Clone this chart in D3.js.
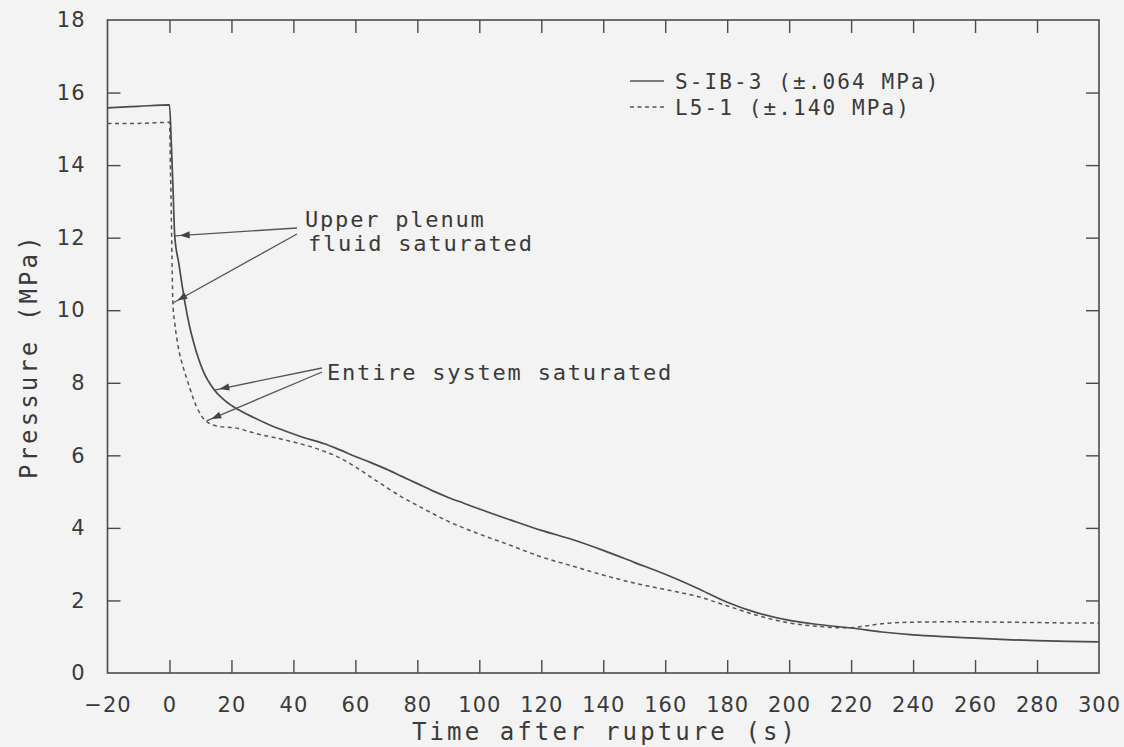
<!DOCTYPE html>
<html>
<head>
<meta charset="utf-8">
<script src="https://cdn.jsdelivr.net/npm/d3@7"></script>
<style>
  html, body { margin: 0; padding: 0; background: #f3f3f3; }
  svg { display: block; }
  text { font-family: "DejaVu Sans Mono", monospace; fill: #3a3a3a; }
</style>
</head>
<body>
<svg id="chart" width="1124" height="747"></svg>
<script>
// S-IB-3 (semiscale) pressure history
const sibTime = [-20, -10, 0, 0.6, 1.2, 1.7, 3, 5, 6.5, 8, 11, 14.5, 18, 22, 27, 32, 38, 43, 50, 55, 60, 65, 70, 75, 80, 85, 90, 95, 100, 110, 120, 130, 140, 150, 160, 170, 180, 190, 200, 210, 220, 230, 240, 250, 260, 270, 280, 290, 300];
const sibPressure = [15.58, 15.62, 15.66, 14.6, 13.2, 12.05, 11.3, 10.2, 9.55, 9.05, 8.3, 7.8, 7.5, 7.27, 7.05, 6.85, 6.65, 6.5, 6.32, 6.15, 5.97, 5.8, 5.62, 5.42, 5.22, 5.02, 4.84, 4.68, 4.52, 4.22, 3.93, 3.68, 3.38, 3.05, 2.72, 2.35, 1.95, 1.65, 1.45, 1.33, 1.24, 1.13, 1.05, 1.0, 0.96, 0.92, 0.89, 0.87, 0.86];

// L5-1 (LOFT) pressure history
const l51Time = [-20, -10, 0, 0.3, 0.6, 0.9, 1.1, 1.7, 2.8, 4.4, 6, 8.7, 11.4, 15.7, 21, 28, 37, 48, 55, 60, 65, 70, 75, 80, 90, 100, 110, 120, 130, 140, 150, 160, 170, 180, 190, 200, 210, 215, 220, 225, 230, 240, 250, 260, 270, 280, 290, 300];
const l51Pressure = [15.15, 15.15, 15.18, 14.0, 12.6, 11.0, 10.2, 9.65, 9.0, 8.44, 8.0, 7.35, 6.97, 6.8, 6.76, 6.6, 6.43, 6.17, 5.93, 5.68, 5.4, 5.12, 4.85, 4.62, 4.18, 3.83, 3.52, 3.2, 2.95, 2.7, 2.48, 2.3, 2.12, 1.85, 1.58, 1.38, 1.28, 1.25, 1.25, 1.3, 1.36, 1.4, 1.41, 1.41, 1.4, 1.39, 1.38, 1.38];

const seriesNames = ["S-IB-3 (\u00b1.064 MPa)", "L5-1 (\u00b1.140 MPa)"];
const xTickValues = [-20, 0, 20, 40, 60, 80, 100, 120, 140, 160, 180, 200, 220, 240, 260, 280, 300];
const yTickValues = [0, 2, 4, 6, 8, 10, 12, 14, 16, 18];
const xTitle = "Time after rupture (s)";
const yTitle = "Pressure (MPa)";

// annotation text lines and the curve points their arrows point at
const upperPlenumLines = ["Upper plenum", "fluid saturated"];
const upperPlenumTargets = [{ t: 1.7, p: 12.05 }, { t: 1.1, p: 10.2 }];
const entireSystemLines = ["Entire system saturated"];
const entireSystemTargets = [{ t: 14.5, p: 7.8 }, { t: 12, p: 6.95 }];

const svg = d3.select("#chart");
const plotLeft = 107.5, plotRight = 1099, plotTop = 20, plotBottom = 673;

const x = d3.scaleLinear().domain([-20, 300]).range([plotLeft, plotRight]);
const y = d3.scaleLinear().domain([0, 18]).range([plotBottom, plotTop]);

const ink = "#4a4a4a";
const tickLen = 13;

// bottom axis with inward ticks and labels
const gx = svg.append("g").attr("transform", `translate(0,${plotBottom})`)
  .call(d3.axisBottom(x).tickValues(xTickValues).tickSize(-tickLen).tickPadding(24)
    .tickFormat(d3.format("d")));
// top axis, ticks only
const gxt = svg.append("g").attr("transform", `translate(0,${plotTop})`)
  .call(d3.axisTop(x).tickValues(xTickValues.slice(1, -1)).tickSize(-tickLen).tickFormat(""));
// left axis with labels
const gy = svg.append("g").attr("transform", `translate(${plotLeft},0)`)
  .call(d3.axisLeft(y).tickValues(yTickValues).tickSize(-tickLen).tickPadding(22)
    .tickFormat(d3.format("d")));
// right axis, ticks only
const gyr = svg.append("g").attr("transform", `translate(${plotRight},0)`)
  .call(d3.axisRight(y).tickValues(yTickValues.slice(1, -1)).tickSize(-tickLen).tickFormat(""));

[gx, gxt, gy, gyr].forEach(g => {
  g.select(".domain").remove();
  g.selectAll(".tick line").attr("stroke", ink).attr("stroke-width", 1.4);
  g.selectAll(".tick text")
    .attr("fill", "#3a3a3a")
    .style("font-size", "21px")
    .style("letter-spacing", "1px")
    .style("font-family", "'DejaVu Sans', sans-serif");
});
// end ticks that sit on the frame corners are not drawn
gx.selectAll(".tick line").filter(d => d === -20 || d === 300).remove();
gy.selectAll(".tick line").filter(d => d === 0 || d === 18).remove();

// plot frame
svg.append("rect")
  .attr("x", plotLeft).attr("y", plotTop)
  .attr("width", plotRight - plotLeft).attr("height", plotBottom - plotTop)
  .attr("fill", "none").attr("stroke", ink).attr("stroke-width", 1.6);

// axis titles
svg.append("text")
  .attr("x", 412).attr("y", 740)
  .style("font-size", "24px").style("letter-spacing", "3.1px")
  .text(xTitle);
svg.append("text")
  .attr("transform", `translate(37,479) rotate(-90)`)
  .style("font-size", "24px").style("letter-spacing", "3.1px")
  .text(yTitle);

// series
const line = d3.line().x(d => x(d[0])).y(d => y(d[1])).curve(d3.curveMonotoneX);
const sibData = sibTime.map((t, i) => [t, sibPressure[i]]);
const l51Data = l51Time.map((t, i) => [t, l51Pressure[i]]);

svg.append("path").datum(l51Data)
  .attr("d", line).attr("fill", "none")
  .attr("stroke", "#555").attr("stroke-width", 1.5)
  .attr("stroke-dasharray", "4,3.5");
svg.append("path").datum(sibData)
  .attr("d", line).attr("fill", "none")
  .attr("stroke", "#4a4a4a").attr("stroke-width", 1.7);

// legend
const legend = svg.append("g");
const legendRows = [
  { name: seriesNames[0], dash: null, baseline: 89 },
  { name: seriesNames[1], dash: "4,3.5", baseline: 115 }
];
legendRows.forEach(r => {
  legend.append("line")
    .attr("x1", 630).attr("x2", 664)
    .attr("y1", r.baseline - 8).attr("y2", r.baseline - 8)
    .attr("stroke", "#555").attr("stroke-width", 1.5)
    .attr("stroke-dasharray", r.dash);
  legend.append("text")
    .attr("x", 675).attr("y", r.baseline)
    .style("font-size", "21px").style("letter-spacing", "2.1px")
    .text(r.name);
});

// annotations with arrows
function arrow(from, tip) {
  const dx = tip[0] - from[0], dy = tip[1] - from[1];
  const len = Math.hypot(dx, dy);
  const ux = dx / len, uy = dy / len;
  svg.append("line")
    .attr("x1", from[0]).attr("y1", from[1])
    .attr("x2", tip[0]).attr("y2", tip[1])
    .attr("stroke", "#555").attr("stroke-width", 1.3);
  const back = 5, headLen = 10, half = 3.6;
  const ax = tip[0] - ux * back, ay = tip[1] - uy * back;
  const bx = ax - ux * headLen, by = ay - uy * headLen;
  const px = -uy * half, py = ux * half;
  svg.append("path")
    .attr("d", `M${ax},${ay}L${bx + px},${by + py}L${bx - px},${by - py}Z`)
    .attr("fill", "#444");
}

upperPlenumLines.forEach((s, i) => {
  svg.append("text")
    .attr("x", 305 + i * 3).attr("y", 227 + i * 24)
    .style("font-size", "22px").style("letter-spacing", "1.8px")
    .text(s);
});
arrow([297, 228], [x(upperPlenumTargets[0].t), y(upperPlenumTargets[0].p)]);
arrow([297, 234], [x(upperPlenumTargets[1].t), y(upperPlenumTargets[1].p)]);

entireSystemLines.forEach(s => {
  svg.append("text")
    .attr("x", 327).attr("y", 380)
    .style("font-size", "22px").style("letter-spacing", "1.8px")
    .text(s);
});
arrow([322, 368], [x(entireSystemTargets[0].t), y(entireSystemTargets[0].p)]);
arrow([322, 372], [x(entireSystemTargets[1].t), y(entireSystemTargets[1].p)]);
</script>
</body>
</html>
